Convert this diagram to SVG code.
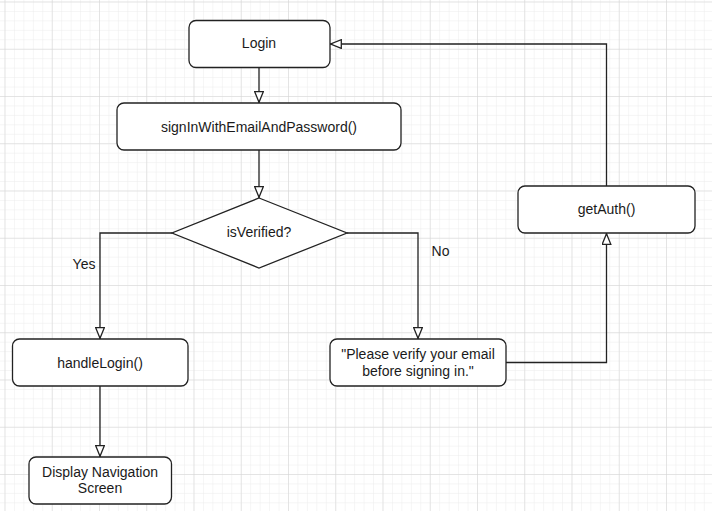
<svg xmlns="http://www.w3.org/2000/svg" width="712" height="511" viewBox="0 0 712 511">
<defs>
<pattern id="minor" x="4.5" y="1.5" width="9.45" height="9.45" patternUnits="userSpaceOnUse">
<path d="M0 0H9.45M0 0V9.45" fill="none" stroke="#ececec" stroke-width="1"/>
</pattern>
<pattern id="major" x="4.5" y="1.5" width="47.25" height="47.25" patternUnits="userSpaceOnUse">
<path d="M0 0H47.25M0 0V47.25" fill="none" stroke="#d4d4d4" stroke-width="1"/>
</pattern>
<marker id="arr" viewBox="0 0 12 10" refX="12" refY="5" markerWidth="12" markerHeight="10" markerUnits="userSpaceOnUse" orient="auto">
<path d="M0.7 0.7L11.3 5L0.7 9.3Z" fill="#fff" stroke="#222" stroke-width="1.3"/>
</marker>
</defs>
<style>
.node rect{fill:#fff;stroke:#222;stroke-width:1.3}
.node polygon{fill:#fff;stroke:#222;stroke-width:1.3}
text{font-family:"Liberation Sans",Arial,sans-serif;font-size:14px;fill:#1a1a1a;text-anchor:middle}
.edge{fill:none;stroke:#222;stroke-width:1.3}
</style>
<rect width="712" height="511" fill="#fff"/>
<rect width="712" height="511" fill="url(#minor)"/>
<rect width="712" height="511" fill="url(#major)"/>
<g id="connectors">
<path class="edge" d="M259 68V103" marker-end="url(#arr)"/>
<path class="edge" d="M259 150V198" marker-end="url(#arr)"/>
<path class="edge" d="M172 233H100V339" marker-end="url(#arr)"/>
<path class="edge" d="M347 233H418V339" marker-end="url(#arr)"/>
<path class="edge" d="M100 386V457" marker-end="url(#arr)"/>
<path class="edge" d="M506 362.5H606.5V233" marker-end="url(#arr)"/>
<path class="edge" d="M606.5 186V44H330" marker-end="url(#arr)"/>
<text x="84" y="269">Yes</text>
<text x="440.5" y="255.5">No</text>
</g>
<g id="login" class="node">
<rect x="189" y="20.5" width="141" height="47" rx="7"/>
<text x="259" y="48">Login</text>
</g>
<g id="signin" class="node">
<rect x="117" y="103" width="284" height="47" rx="7"/>
<text x="259" y="131.5">signInWithEmailAndPassword()</text>
</g>
<g id="isverified" class="node">
<polygon points="259,198 347,233 259,268 172,233"/>
<text x="259" y="236.5">isVerified?</text>
</g>
<g id="handlelogin" class="node">
<rect x="12.5" y="339" width="175.5" height="47" rx="7"/>
<text x="100" y="367.5">handleLogin()</text>
</g>
<g id="display" class="node">
<rect x="29" y="457" width="142.5" height="47" rx="7"/>
<text x="100" y="476.5">Display Navigation</text>
<text x="100" y="493">Screen</text>
</g>
<g id="verifymsg" class="node">
<rect x="330" y="339" width="176" height="47" rx="7"/>
<text x="418" y="359">"Please verify your email</text>
<text x="418" y="375.5">before signing in."</text>
</g>
<g id="getauth" class="node">
<rect x="518" y="186" width="177" height="47" rx="7"/>
<text x="606.5" y="214">getAuth()</text>
</g>
</svg>
